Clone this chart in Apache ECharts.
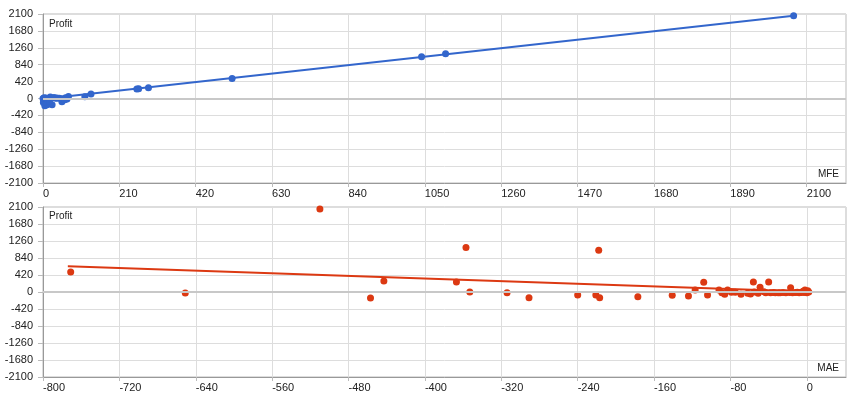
<!DOCTYPE html>
<html>
<head>
<meta charset="utf-8">
<script src="https://cdn.jsdelivr.net/npm/echarts@6/dist/echarts.min.js"></script>
<style>
    html, body { margin: 0; padding: 0; background: #fff; }
    #chart { width: 860px; height: 400px; }
</style>
</head>
<body>
<div id="chart"></div>
<script>
    // MFE / Profit (upper chart)
    var mfeValues = [2064, 1107, 1041, 520, 290, 263, 258, 132, 115, 70, 66, 62, 52, 52, 45, 38, 30, 25, 20, 15, 11, 8, 5, 4, 2, 1, 0, 3, 10, 18, 35, 60];
    var mfeProfit = [2055, 1111, 1036, 500, 266, 241, 236, 109, 42, 50, -15, 20, -82, -7, 5, 10, 25, -157, 35, -20, -157, 10, -180, -60, -32, -100, 0, 20, -5, -60, 5, -30];
    var mfeTrend = [[0, -15], [2064, 2055]];

    // MAE / Profit (lower chart)
    var maeValues = [-771, -651, -510, -457, -443, -367, -357, -353, -314, -291, -240, -221, -218, -217, -177, -141, -124, -117, -108, -104, -92, -89, -86, -83, -79, -75, -69, -62, -59, -56, -55, -51, -49, -45, -43, -40, -38, -35, -33, -30, -28, -25, -22, -18, -17, -15, -12, -10, -8, -6, -4, -3, -2, -1, 0, 1, 2];
    var maeProfit = [496, -25, 2050, -149, 272, 248, 1100, 0, -17, -141, -74, -74, 1030, -141, -116, -82, -99, 50, 240, -74, 50, -17, -57, 50, -8, -8, -57, -30, -50, 248, 0, -33, 116, 8, -20, 248, -17, -10, -17, -20, -17, -15, -20, -10, 107, -20, -15, -5, -20, -10, 20, -15, 50, 10, -20, 30, 0];
    var maeTrend = [[-774, 637], [3, 8]];

    var yTicks = { min: -2100, max: 2100, interval: 420 };

    function pairs(xs, ys) {
        var out = [];
        for (var i = 0; i < xs.length; i++) {
            out.push([xs[i], ys[i]]);
        }
        return out;
    }

    var labelStyle = {
        color: '#222', fontSize: 11, fontFamily: 'Arial, "Liberation Sans", sans-serif',
        formatter: function (v) { return String(v); }
    };
    var titleStyle = { fontSize: 10, fontWeight: 'normal', color: '#222', fontFamily: 'Arial, "Liberation Sans", sans-serif' };

    function xAxisFor(idx, min, max) {
        return {
            type: 'value', gridIndex: idx, min: min, max: max, interval: idx == 0 ? 210 : 80,
            axisLine: { show: true, onZero: false, lineStyle: { color: '#999' } },
            axisTick: { show: true, length: 4, lineStyle: { color: '#bbb' } },
            axisLabel: Object.assign({ align: 'left', margin: 5, showMaxLabel: false }, labelStyle),
            splitLine: { show: true, lineStyle: { color: '#ddd' } }
        };
    }

    function yAxisFor(idx) {
        return {
            type: 'value', gridIndex: idx, min: yTicks.min, max: yTicks.max, interval: yTicks.interval,
            axisLine: { show: true, onZero: false, lineStyle: { color: '#999' } },
            axisTick: { show: true, length: 5, lineStyle: { color: '#bbb' } },
            axisLabel: Object.assign({ margin: 10 }, labelStyle),
            splitLine: { show: true, lineStyle: { color: '#ddd' } }
        };
    }

    var zeroLine = {
        silent: true,
        symbol: 'none',
        label: { show: false },
        lineStyle: { color: '#c8c8c8', width: 2, type: 'solid' },
        data: [{ yAxis: 0 }]
    };

    var myChart = echarts.init(document.getElementById('chart'));
    myChart.setOption({
        animation: false,
        title: [
            { text: 'Profit', left: 49, top: 19, padding: 0, textStyle: titleStyle },
            { text: 'MFE', right: 21, top: 169, padding: 0, textStyle: titleStyle },
            { text: 'Profit', left: 49, top: 211, padding: 0, textStyle: titleStyle },
            { text: 'MAE', right: 21, top: 363, padding: 0, textStyle: titleStyle }
        ],
        grid: [
            { left: 43, right: 14, top: 14, height: 169, show: true, borderColor: '#bbb', borderWidth: 1 },
            { left: 43, right: 14, top: 207, height: 170, show: true, borderColor: '#bbb', borderWidth: 1 }
        ],
        xAxis: [xAxisFor(0, 0, 2208), xAxisFor(1, -800, 41)],
        yAxis: [yAxisFor(0), yAxisFor(1)],
        series: [
            {
                type: 'line', xAxisIndex: 0, yAxisIndex: 0, data: mfeTrend, symbol: 'none', z: 2,
                lineStyle: { color: '#3366cc', width: 2 }, markLine: zeroLine
            },
            {
                type: 'scatter', xAxisIndex: 0, yAxisIndex: 0, data: pairs(mfeValues, mfeProfit),
                symbolSize: 7, z: 3, itemStyle: { color: '#3366cc', opacity: 1 }
            },
            {
                type: 'line', xAxisIndex: 1, yAxisIndex: 1, data: maeTrend, symbol: 'none', z: 2,
                lineStyle: { color: '#dc3912', width: 2 }, markLine: zeroLine
            },
            {
                type: 'scatter', xAxisIndex: 1, yAxisIndex: 1, data: pairs(maeValues, maeProfit),
                symbolSize: 7, z: 3, itemStyle: { color: '#dc3912', opacity: 1 }
            }
        ]
    });
    window.onresize = myChart.resize;
</script>
</body>
</html>
